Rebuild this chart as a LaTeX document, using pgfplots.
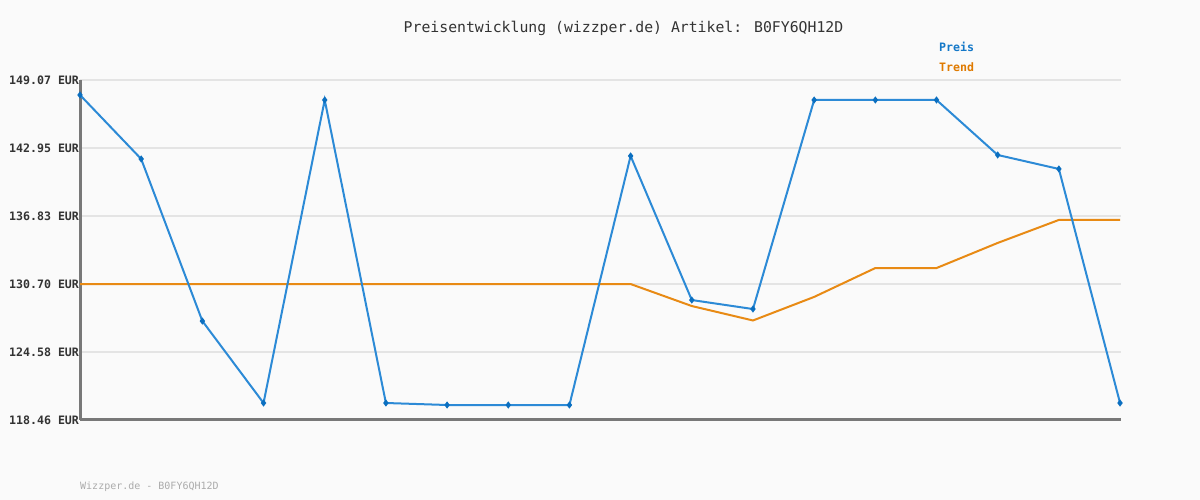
\documentclass[border=0pt]{standalone}
\usepackage{pgfplots}
\pgfplotsset{compat=1.18}
\usepackage{fontspec}
\setmainfont{DejaVu Sans Mono}
\setmonofont{DejaVu Sans Mono}
\definecolor{bg}{HTML}{FAFAFA}
\definecolor{preis}{HTML}{2C8AD6}
\definecolor{preismark}{HTML}{0B6FC0}
\definecolor{trend}{HTML}{E88A14}
\definecolor{trendtxt}{HTML}{DF7A00}
\definecolor{preistxt}{HTML}{1478C8}
\definecolor{gridc}{HTML}{E4E4E4}
\definecolor{axc}{HTML}{787878}
\definecolor{txt}{HTML}{333333}
\begin{document}
\begin{tikzpicture}[x=1pt,y=1pt]
\fill[bg] (0,0) rectangle (1200,500);
\useasboundingbox (0,0) rectangle (1200,500);
\begin{axis}[
  at={(80pt,80pt)}, anchor=south west,
  scale only axis, width=1041pt, height=340pt,
  xmin=0, xmax=17.016, ymin=118.46, ymax=149.07,
  axis x line*=bottom, axis y line*=left,
  axis line style={-, draw=axc, line width=3pt},
  xtick=\empty,
  ytick={118.46,124.58,130.70,136.83,142.95,149.07},
  yticklabels={118.46 EUR,124.58 EUR,130.70 EUR,136.83 EUR,142.95 EUR,149.07 EUR},
  yticklabel style={font=\fontsize{11.6}{13}\selectfont\bfseries, text=txt, anchor=east, xshift=2.5pt},
  major tick length=0pt,
  ymajorgrids, grid style={draw=gridc, line width=2pt},
  clip=false,
]
\addplot[trend, line width=2pt, no markers] coordinates {
(0,130.70) (1,130.70) (2,130.70) (3,130.70) (4,130.70) (5,130.70) (6,130.70) (7,130.70) (8,130.70) (9,130.70)
(10,128.72) (11,127.42) (12,129.54) (13,132.14) (14,132.14) (15,134.40) (16,136.47) (17,136.47)
};
\addplot[preis, line width=2pt, mark=diamond*, mark size=2pt, mark options={preismark, solid}] coordinates {
(0,147.72) (1,141.96) (2,127.37) (3,119.99) (4,147.27) (5,119.99) (6,119.81) (7,119.81) (8,119.81)
(9,142.23) (10,129.26) (11,128.45) (12,147.27) (13,147.27) (14,147.27) (15,142.32) (16,141.06) (17,119.99)
};
\end{axis}
\node[anchor=center, text=txt, font=\fontsize{14.8}{16}\selectfont] at (623.5,472) {Preisentwicklung (wizzper.de) Artikel: B0FY6QH12D};
\node[anchor=west, text=preistxt, font=\fontsize{11.6}{13}\selectfont\bfseries, inner sep=0pt] at (939,453) {Preis};
\node[anchor=west, text=trendtxt, font=\fontsize{11.6}{13}\selectfont\bfseries, inner sep=0pt] at (939,433) {Trend};
\node[anchor=west, text=black!33, font=\fontsize{10}{12}\selectfont, inner sep=0pt] at (80,13) {Wizzper.de - B0FY6QH12D};
\end{tikzpicture}
\end{document}
